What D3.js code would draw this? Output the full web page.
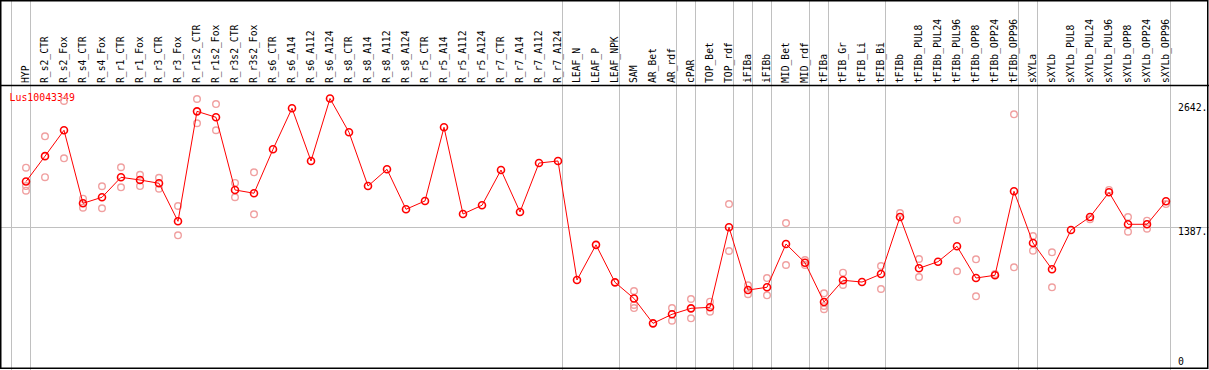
<!DOCTYPE html>
<html>
<head>
<meta charset="utf-8">
<script src="https://cdn.jsdelivr.net/npm/d3@7"></script>
<style>
  html, body { margin: 0; padding: 0; background: #fff; }
  svg { display: block; }
  text { font-family: "DejaVu Sans Mono", monospace; }
</style>
</head>
<body>
<div id="chart"></div>
<script>
const geneId = "Lus10043349";

const columns = [
  "HYP", "R_s2_CTR", "R_s2_Fox", "R_s4_CTR", "R_s4_Fox", "R_r1_CTR", "R_r1_Fox",
  "R_r3_CTR", "R_r3_Fox", "R_r1s2_CTR", "R_r1s2_Fox", "R_r3s2_CTR", "R_r3s2_Fox",
  "R_s6_CTR", "R_s6_A14", "R_s6_A112", "R_s6_A124", "R_s8_CTR", "R_s8_A14",
  "R_s8_A112", "R_s8_A124", "R_r5_CTR", "R_r5_A14", "R_r5_A112", "R_r5_A124",
  "R_r7_CTR", "R_r7_A14", "R_r7_A112", "R_r7_A124", "LEAF_N", "LEAF_P", "LEAF_NPK",
  "SAM", "AR_Bet", "AR_rdf", "cPAR", "TOP_Bet", "TOP_rdf", "iFIBa", "iFIBb",
  "MID_Bet", "MID_rdf", "tFIBa", "tFIB_Gr", "tFIB_Li", "tFIB_Bi", "tFIBb",
  "tFIBb_PUL8", "tFIBb_PUL24", "tFIBb_PUL96", "tFIBb_OPP8", "tFIBb_OPP24", "tFIBb_OPP96",
  "sXYLa", "sXYLb", "sXYLb_PUL8", "sXYLb_PUL24", "sXYLb_PUL96", "sXYLb_OPP8",
  "sXYLb_OPP24", "sXYLb_OPP96"
];

// mean expression per column
const means = [
  1834, 2081, 2333, 1622, 1681, 1875, 1849, 1817, 1447, 2517, 2459, 1752, 1720,
  2148, 2547, 2034, 2642, 2313, 1790, 1953, 1564, 1645, 2362, 1518, 1603,
  1946, 1538, 2014, 2034, 876, 1218, 853,
  696, 454, 542, 600, 610, 1389, 778, 805, 1226, 1044, 662, 873, 856, 934, 1489,
  990, 1054, 1204, 895, 922, 1739,
  1236, 980, 1362, 1489, 1729, 1418, 1418, 1642
];

// individual replicates per column
const replicates = [
  [1969, 1790, 1745], [2274, 1876], [2618, 2060], [1667, 1579], [1788, 1574],
  [1973, 1778], [1900, 1790], [1871, 1764], [1596, 1311], [2637, 2401], [2588, 2333],
  [1820, 1681], [1924, 1515],
  [], [], [], [], [], [], [], [], [], [], [], [],
  [], [], [], [], [], [], [],
  [769, 633, 603], [], [603, 480], [691, 503], [665, 567], [1615, 1158],
  [824, 737], [895, 727], [1430, 1022], [1070, 1022], [746, 623, 591],
  [947, 827], [], [1012, 788], [1528],
  [1080, 905], [], [1460, 960], [1077, 717], [934], [2488, 999],
  [1304, 1161], [1145, 805], [], [1466], [1752], [1489, 1346], [1453, 1375], [1615]
];

const yTicks = [2642, 1387, 0];
const gridTick = 1387;

// group separators drawn right after these columns
const separatorsAfter = [
  "HYP", "R_r7_A124", "LEAF_NPK", "AR_rdf", "cPAR", "TOP_rdf", "iFIBa", "iFIBb",
  "MID_rdf", "tFIBa", "tFIB_Bi", "tFIBb_OPP96", "sXYLa", "sXYLb_OPP96"
];

const W = 1209, H = 370;
const labelBottom = 85.5;

const svg = d3.select("#chart").append("svg")
  .attr("width", W)
  .attr("height", H);

svg.append("rect").attr("width", W).attr("height", H).attr("fill", "#fff");

const x = d3.scalePoint()
  .domain(columns)
  .range([26, 1166]);

const step = x.step();

const y = d3.scaleLinear()
  .domain([0, 2642])
  .range([370, 98.5]);

// vertical separators (full height)
const sepX = [x(columns[0]) - step + 4.5].concat(separatorsAfter.map(c => x(c) + 4.5));
svg.append("g")
  .selectAll("line")
  .data(sepX)
  .join("line")
  .attr("x1", d => d).attr("x2", d => d)
  .attr("y1", 0).attr("y2", H)
  .attr("stroke", "#c0c0c0")
  .attr("stroke-width", 1);

// horizontal grid line
svg.append("line")
  .attr("x1", 0).attr("x2", W)
  .attr("y1", Math.round(y(gridTick)) + 0.5).attr("y2", Math.round(y(gridTick)) + 0.5)
  .attr("stroke", "#c0c0c0");

// frame
svg.append("rect")
  .attr("x", 0.75).attr("y", 0.75)
  .attr("width", W - 2).attr("height", H - 2.5)
  .attr("fill", "none")
  .attr("stroke", "#000")
  .attr("stroke-width", 1.5);

svg.append("line")
  .attr("x1", 0).attr("x2", W)
  .attr("y1", labelBottom).attr("y2", labelBottom)
  .attr("stroke", "#000")
  .attr("stroke-width", 1.5);

// column labels
svg.append("g")
  .selectAll("text")
  .data(columns)
  .join("text")
  .attr("transform", d => `translate(${x(d) + 3},83) rotate(-90)`)
  .attr("font-size", 9.7)
  .attr("fill", "#000")
  .text(d => d);

// right axis labels
svg.append("g")
  .selectAll("text")
  .data(yTicks)
  .join("text")
  .attr("x", 1178)
  .attr("y", d => Math.min(Math.max(y(d) + 8, 110.5), 365))
  .attr("font-size", 9.8)
  .attr("fill", "#000")
  .text(d => d === 0 ? "0" : d + ".");

// gene id
svg.append("text")
  .attr("x", 9.5)
  .attr("y", 100.5)
  .attr("font-size", 9.9)
  .attr("fill", "#ff0000")
  .text(geneId);

// replicate circles
const reps = columns.flatMap((c, i) => replicates[i].map(v => ({ c, v })));
svg.append("g")
  .selectAll("circle")
  .data(reps)
  .join("circle")
  .attr("cx", d => x(d.c))
  .attr("cy", d => y(d.v))
  .attr("r", 3.3)
  .attr("fill", "none")
  .attr("stroke", "#f0a0a0")
  .attr("stroke-width", 1.4);

const pts = columns.map((c, i) => ({ c, v: means[i] }));

const line = d3.line()
  .x(d => x(d.c))
  .y(d => y(d.v));

svg.append("path")
  .datum(pts)
  .attr("d", line)
  .attr("fill", "none")
  .attr("stroke", "#ff0000")
  .attr("stroke-width", 1);

svg.append("g")
  .selectAll("circle")
  .data(pts)
  .join("circle")
  .attr("cx", d => x(d.c))
  .attr("cy", d => y(d.v))
  .attr("r", 3.5)
  .attr("fill", "none")
  .attr("stroke", "#ff0000")
  .attr("stroke-width", 1.6);
</script>
</body>
</html>
